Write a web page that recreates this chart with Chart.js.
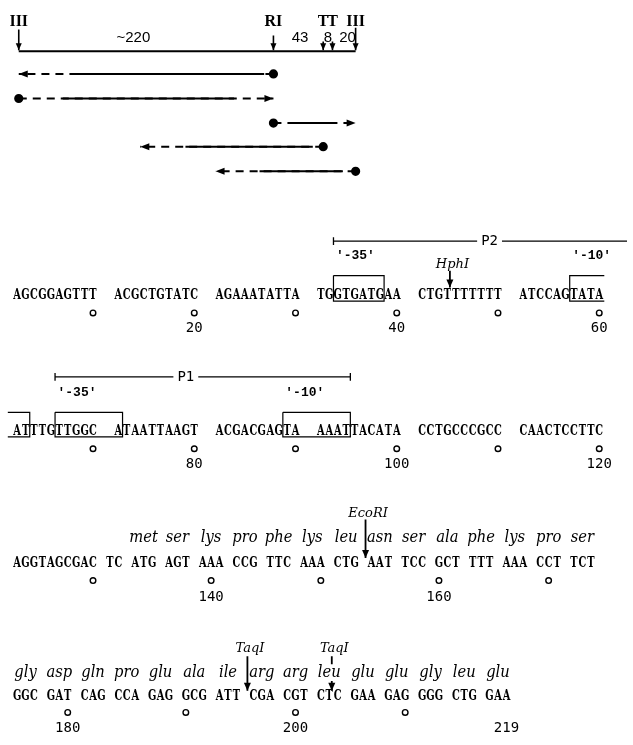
<!DOCTYPE html>
<html><head><meta charset="utf-8">
<script src="https://cdn.jsdelivr.net/npm/chart.js@4/dist/chart.umd.min.js"></script>
<style>html,body{margin:0;padding:0;background:#fff}canvas{display:block}</style>
</head><body>
<canvas id="c" width="633" height="745"></canvas>
<script>
// ================= DATA =================
// restriction map (bp)
const mapSiteLabels = ['III', 'RI', 'T', 'T', 'III'];
const mapSitePositions = [0, 220, 263, 271, 291];
const mapSegmentLabels = ['~220', '43', '8', '20'];
const mapSegmentLabelAt = [99, 243, 267, 284];

// sequencing fragments (bp): labelled end (dot) -> read direction (arrow)
const fragStart = [220, 0, 220, 263, 291];
const fragEnd = [0, 220, 291, 105, 170];
const fragSolidFrom = [48, 38, 233, 144, 208];
const fragSolidTo = [212, 186, 271, 254, 280];

// nucleotide sequence, as typed in four lines
const seqRow1 = ['AGCGGAGTTT', 'ACGCTGTATC', 'AGAAATATTA', 'TGGTGATGAA', 'CTGTTTTTTT', 'ATCCAGTATA'];
const seqRow2 = ['ATTTGTTGGC', 'ATAATTAAGT', 'ACGACGAGTA', 'AAATTACATA', 'CCTGCCCGCC', 'CAACTCCTTC'];
const seqRow3 = ['AGGTAGCGAC', 'TC', 'ATG', 'AGT', 'AAA', 'CCG', 'TTC', 'AAA', 'CTG', 'AAT', 'TCC', 'GCT', 'TTT', 'AAA', 'CCT', 'TCT'];
const seqRow4 = ['GGC', 'GAT', 'CAG', 'CCA', 'GAG', 'GCG', 'ATT', 'CGA', 'CGT', 'CTC', 'GAA', 'GAG', 'GGG', 'CTG', 'GAA'];
const rowStartPos = [1, 61, 121, 175];

// protein translation
const aminoRow3 = ['met', 'ser', 'lys', 'pro', 'phe', 'lys', 'leu', 'asn', 'ser', 'ala', 'phe', 'lys', 'pro', 'ser'];
const aminoRow3FirstToken = 2;
const aminoRow4 = ['gly', 'asp', 'gln', 'pro', 'glu', 'ala', 'ile', 'arg', 'arg', 'leu', 'glu', 'glu', 'gly', 'leu', 'glu'];
const aminoRow4FirstToken = 0;

// numbering
const tickEvery = 10;
const tickLast = 210;
const tickLabels = [20, 40, 60, 80, 100, 120, 140, 160, 180, 200, 219];

// restriction enzyme cuts (cut after position)
const enzymeNames = ['HphI', 'EcoRI', 'TaqI', 'TaqI'];
const enzymeCutAfter = [44, 153, 195, 203];

// promoters
const promoterNames = ['P2', 'P1'];
const promoterFrom = [33, 66];
const promoterTo = [null, 94];          // P2 runs off the line
const promoterLabelAt = [49, 79];

// boxed consensus regions
const boxNames = ["'-35'", "'-10'", "'-35'", "'-10'"];
const boxFrom = [33, 57, 66, 89];
const boxTo = [38, 62, 71, 94];

// ================= LAYOUT / STYLE =================
const K = '#000';
const MAP_LEFT_PX = 13, PX_PER_BP = 1.18;
const SEQ_LEFT_PX = 7, PX_PER_COL = 8.6;
const W = 633, H = 745;
const LY = {
  mapLabel: 20, mapLine: 46, mapSegLabel: 37,
  mapArrowTop: [24, 30, 36, 36, 22],
  fragY: [69, 94, 119, 143, 168],
  rows: [
    { seq: 298, circ: 312, num: 331, bar: 239, boxTop: 274, boxBot: 300, label: 257, enzLabel: 266, enzTop: 269, enzTip: 286 },
    { seq: 436, circ: 450, num: 470, bar: 377, boxTop: 413, boxBot: 438, label: 396 },
    { seq: 570, circ: 584, num: 605, amino: 545, enzLabel: 519, enzTop: 522, enzTip: 561 },
    { seq: 705, circ: 718, num: 738, amino: 682, enzLabel: 657, enzTop: 661, enzTip: 696, breakEnd: 669, breakResume: 686 }
  ]
};
const enzymeBroken = [false, false, false, true];
const FONT = {
  seq: 'bold 14px "DejaVu Serif"', seqScale: 0.7,
  amino: 'italic 16px "DejaVu Serif"', aminoScale: 0.92,
  enz: 'italic 13px "DejaVu Serif"',
  num: '14px "DejaVu Sans Mono"',
  box: 'bold 13px "Liberation Mono"',
  prom: '14px "DejaVu Sans Mono"',
  mapSite: 'bold 16px "Liberation Serif"',
  mapSeg: '15px "Liberation Sans"'
};

// ================= BUILD =================
const rowTokens = [seqRow1, seqRow2, seqRow3, seqRow4];
const rowSep = [2, 2, 1, 1];
const posInfo = {};
const tokenStartCol = [];
rowTokens.forEach((toks, r) => {
  let c = 0, i = 0; const starts = [];
  toks.forEach(t => {
    starts.push(c);
    for (const ch of t) { posInfo[rowStartPos[r] + i] = { row: r, col: c, ch }; c++; i++; }
    c += rowSep[r];
  });
  tokenStartCol.push(starts);
});

const datasets = [];
function seg(xAxis, pts, opts = {}) {
  datasets.push(Object.assign({
    xAxisID: xAxis, yAxisID: 'y', data: pts, showLine: true,
    borderColor: K, borderWidth: 1.5, pointRadius: 0, fill: false, tension: 0
  }, opts));
}

// map baseline + site arrows
seg('bp', [{ x: mapSitePositions[0], y: LY.mapLine }, { x: mapSitePositions[mapSitePositions.length - 1], y: LY.mapLine }], { borderWidth: 2 });
mapSitePositions.forEach((p, i) => {
  seg('bp', [{ x: p, y: LY.mapArrowTop[i] }, { x: p, y: LY.mapLine - 1 }], { borderWidth: 1.6, arrowHead: { length: 7, width: 6 } });
});

// fragments
fragStart.forEach((s, i) => {
  const y = LY.fragY[i];
  seg('bp', [{ x: s, y }, { x: fragEnd[i], y }], {
    borderDash: [8, 6], borderWidth: 2, pointRadius: [3.6, 0],
    pointBackgroundColor: K, pointBorderColor: K, arrowHead: { length: 9, width: 7 }
  });
  seg('bp', [{ x: fragSolidFrom[i], y }, { x: fragSolidTo[i], y }], { borderWidth: 2 });
});

// numbering circles
const circlePts = [];
for (let p = tickEvery; p <= tickLast; p += tickEvery) {
  const inf = posInfo[p];
  circlePts.push({ x: inf.col + 0.5, y: LY.rows[inf.row].circ });
}
datasets.push({
  xAxisID: 'col', yAxisID: 'y', data: circlePts, showLine: false,
  pointRadius: 2.8, pointStyle: 'circle', pointBackgroundColor: '#fff',
  pointBorderColor: K, pointBorderWidth: 1.4
});

// boxes
const boxLabelPos = [];
boxFrom.forEach((from, b) => {
  const byRow = {};
  for (let p = from; p <= boxTo[b]; p++) { const inf = posInfo[p]; (byRow[inf.row] = byRow[inf.row] || []).push(inf.col); }
  const rk = Object.keys(byRow).map(Number);
  rk.forEach((r, k) => {
    const cols = byRow[r];
    const left = cols[0], right = cols[cols.length - 1] + 1;
    const openL = k > 0, openR = k < rk.length - 1;
    const t = LY.rows[r].boxTop, bt = LY.rows[r].boxBot;
    let pts;
    if (openL) pts = [{ x: left - 0.6, y: t }, { x: right, y: t }, { x: right, y: bt }, { x: left - 0.6, y: bt }];
    else if (openR) pts = [{ x: right + 0.1, y: t }, { x: left, y: t }, { x: left, y: bt }, { x: right + 0.1, y: bt }];
    else pts = [{ x: left, y: t }, { x: right, y: t }, { x: right, y: bt }, { x: left, y: bt }, { x: left, y: t }];
    seg('col', pts, { borderWidth: 1.2 });
    if (k === 0) boxLabelPos.push({ text: boxNames[b], x: left + 2.6, y: LY.rows[r].label });
  });
});

// promoter bars
const promLabelPos = [];
promoterFrom.forEach((from, i) => {
  const a = posInfo[from];
  const r = a.row, y = LY.rows[r].bar;
  const left = a.col;
  const right = promoterTo[i] == null ? (W - SEQ_LEFT_PX) / PX_PER_COL + 1 : posInfo[promoterTo[i]].col + 1;
  seg('col', [{ x: left, y }, { x: right, y }], { borderWidth: 1.3 });
  seg('col', [{ x: left, y: y - 4 }, { x: left, y: y + 4 }], { borderWidth: 1.3 });
  if (promoterTo[i] != null) seg('col', [{ x: right, y: y - 4 }, { x: right, y: y + 4 }], { borderWidth: 1.3 });
  promLabelPos.push({ text: promoterNames[i], x: posInfo[promoterLabelAt[i]].col + 0.5, y });
});

// enzyme arrows
const enzLabelPos = [];
enzymeCutAfter.forEach((c, i) => {
  const r = posInfo[c].row, R = LY.rows[r];
  const x = posInfo[c + 1].col - 0.2;
  if (enzymeBroken[i]) {
    seg('col', [{ x, y: R.enzTop }, { x, y: R.breakEnd }], { borderWidth: 1.8 });
    seg('col', [{ x, y: R.breakResume }, { x, y: R.enzTip }], { borderWidth: 1.8, arrowHead: { length: 8, width: 7 } });
  } else {
    seg('col', [{ x, y: R.enzTop }, { x, y: R.enzTip }], { borderWidth: 1.8, arrowHead: { length: 8, width: 7 } });
  }
  enzLabelPos.push({ text: enzymeNames[i], x: x + 0.3, y: R.enzLabel });
});

// ================= PLUGINS =================
const arrowPlugin = {
  id: 'arrowHeads',
  afterDatasetsDraw(chart) {
    const ctx = chart.ctx;
    chart.data.datasets.forEach((ds, i) => {
      if (!ds.arrowHead) return;
      const pts = chart.getDatasetMeta(i).data;
      const a = pts[pts.length - 2], b = pts[pts.length - 1];
      const ang = Math.atan2(b.y - a.y, b.x - a.x);
      ctx.save();
      ctx.fillStyle = K;
      ctx.translate(b.x, b.y); ctx.rotate(ang);
      ctx.beginPath();
      ctx.moveTo(0, 0);
      ctx.lineTo(-ds.arrowHead.length, -ds.arrowHead.width / 2);
      ctx.lineTo(-ds.arrowHead.length, ds.arrowHead.width / 2);
      ctx.closePath(); ctx.fill();
      ctx.restore();
    });
  }
};

function txt(ctx, s, x, y, font, opt = {}) {
  ctx.save();
  ctx.font = font; ctx.fillStyle = K;
  ctx.textAlign = opt.align || 'center';
  ctx.textBaseline = opt.baseline || 'alphabetic';
  if (opt.bg) {
    const w = ctx.measureText(s).width;
    ctx.fillStyle = '#fff';
    ctx.fillRect(x - w / 2 - 4, y - 7, w + 8, 14);
    ctx.fillStyle = K;
  }
  ctx.translate(x, y);
  if (opt.scaleX) ctx.scale(opt.scaleX, 1);
  ctx.fillText(s, 0, 0);
  ctx.restore();
}

const textPlugin = {
  id: 'seqText',
  afterDraw(chart) {
    const ctx = chart.ctx;
    const bp = chart.scales.bp, col = chart.scales.col, y = chart.scales.y;
    mapSiteLabels.forEach((s, i) => txt(ctx, s, bp.getPixelForValue(mapSitePositions[i]), y.getPixelForValue(LY.mapLabel), FONT.mapSite));
    mapSegmentLabels.forEach((s, i) => txt(ctx, s, bp.getPixelForValue(mapSegmentLabelAt[i]), y.getPixelForValue(LY.mapSegLabel), FONT.mapSeg));
    Object.keys(posInfo).forEach(p => {
      const inf = posInfo[p];
      txt(ctx, inf.ch, col.getPixelForValue(inf.col + 0.5), y.getPixelForValue(LY.rows[inf.row].seq), FONT.seq, { scaleX: FONT.seqScale });
    });
    [[aminoRow3, aminoRow3FirstToken, 2], [aminoRow4, aminoRow4FirstToken, 3]].forEach(([arr, first, r]) => {
      arr.forEach((a, k) => {
        const c = tokenStartCol[r][first + k] + 1.5;
        txt(ctx, a, col.getPixelForValue(c), y.getPixelForValue(LY.rows[r].amino), FONT.amino, { scaleX: FONT.aminoScale });
      });
    });
    tickLabels.forEach(n => {
      const inf = posInfo[n];
      txt(ctx, String(n), col.getPixelForValue(inf.col + 0.5), y.getPixelForValue(LY.rows[inf.row].num), FONT.num);
    });
    boxLabelPos.forEach(b => txt(ctx, b.text, col.getPixelForValue(b.x), y.getPixelForValue(b.y), FONT.box));
    promLabelPos.forEach(b => txt(ctx, b.text, col.getPixelForValue(b.x), y.getPixelForValue(b.y), FONT.prom, { baseline: 'middle', bg: true }));
    enzLabelPos.forEach(b => txt(ctx, b.text, col.getPixelForValue(b.x), y.getPixelForValue(b.y), FONT.enz));
  }
};

new Chart(document.getElementById('c'), {
  type: 'scatter',
  data: { datasets },
  options: {
    responsive: false, animation: false, events: [],
    layout: { padding: 0 },
    plugins: { legend: { display: false }, tooltip: { enabled: false } },
    scales: {
      bp: { type: 'linear', axis: 'x', position: 'top', display: false,
            min: -MAP_LEFT_PX / PX_PER_BP, max: (W - MAP_LEFT_PX) / PX_PER_BP },
      col: { type: 'linear', axis: 'x', position: 'bottom', display: false,
             min: -SEQ_LEFT_PX / PX_PER_COL, max: (W - SEQ_LEFT_PX) / PX_PER_COL },
      y: { type: 'linear', display: false, reverse: true, min: 0, max: H }
    }
  },
  plugins: [arrowPlugin, textPlugin]
});
</script>
</body></html>
